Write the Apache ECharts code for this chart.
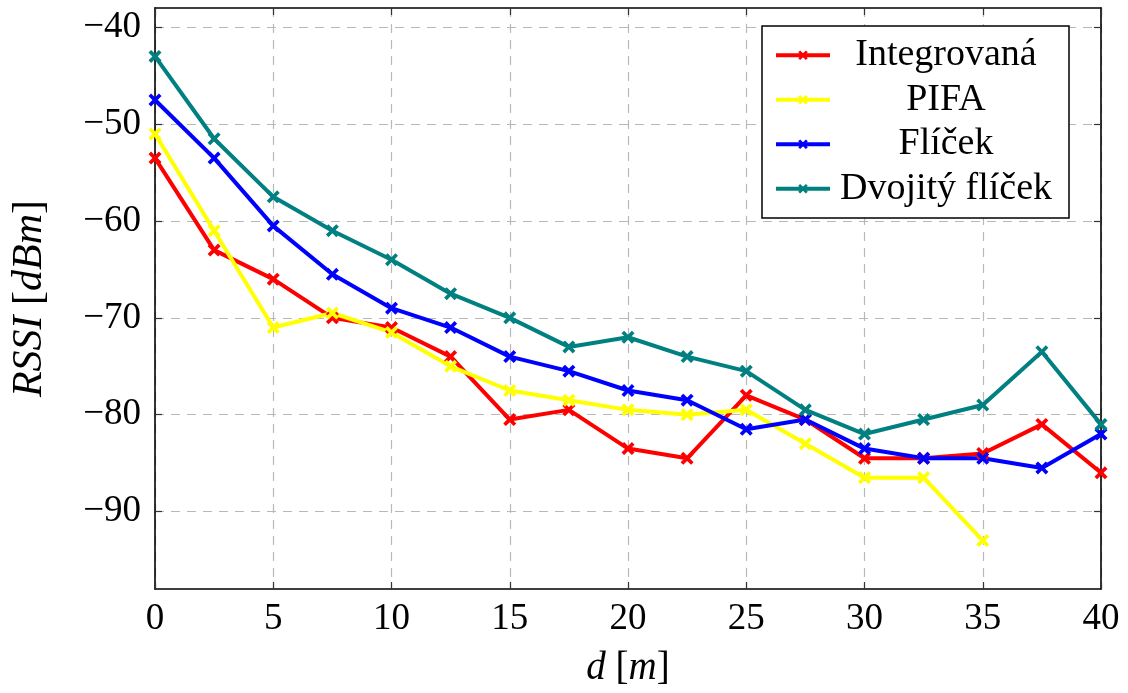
<!DOCTYPE html>
<html>
<head>
<meta charset="utf-8">
<script src="https://cdn.jsdelivr.net/npm/echarts@6/dist/echarts.min.js"></script>
<style>
html,body{margin:0;padding:0;background:#fff;}
#chart{width:1128px;height:693px;}
</style>
</head>
<body>
<div id="chart"></div>
<script>
const distances = [0, 2.5, 5, 7.5, 10, 12.5, 15, 17.5, 20, 22.5, 25, 27.5, 30, 32.5, 35, 37.5, 40];
const integrovana = [-53.5, -63, -66, -70, -71, -74, -80.5, -79.5, -83.5, -84.5, -78, -80.5, -84.5, -84.5, -84, -81, -86];
const pifa = [-51, -61, -71, -69.5, -71.5, -75, -77.5, -78.5, -79.5, -80, -79.5, -83, -86.5, -86.5, -93];
const flicek = [-47.5, -53.5, -60.5, -65.5, -69, -71, -74, -75.5, -77.5, -78.5, -81.5, -80.5, -83.5, -84.5, -84.5, -85.5, -82];
const dvojityFlicek = [-43, -51.5, -57.5, -61, -64, -67.5, -70, -73, -72, -74, -75.5, -79.5, -82, -80.5, -79, -73.5, -81];
const seriesNames = ['Integrovaná', 'PIFA', 'Flíček', 'Dvojitý flíček'];
const xTicks = [0, 5, 10, 15, 20, 25, 30, 35, 40];
const yTicks = [-90, -80, -70, -60, -50, -40];

const FONT = '"Liberation Serif", "DejaVu Serif", serif';
const markX = 'path://M0,2 L2,0 L5,3 L8,0 L10,2 L7,5 L10,8 L8,10 L5,7 L2,10 L0,8 L3,5 Z';
const colors = ['#ff0000', '#ffff00', '#0000ff', '#008080'];
const allData = [integrovana, pifa, flicek, dvojityFlicek];

function pairs(vals) { return vals.map((v, i) => [distances[i], v]); }

const chart = echarts.init(document.getElementById('chart'), null, {renderer: 'canvas'});

const gridLine = {show: true, lineStyle: {color: '#b8b8b8', width: 1.2, type: [9, 7]}};
const tickStyle = {show: true, inside: true, length: 7, lineStyle: {color: '#333', width: 1.2}};
const blackLine = {show: true, onZero: false, lineStyle: {color: '#000', width: 1.6}};

const option = {
  animation: false,
  backgroundColor: '#fff',
  grid: {left: 155, right: 27, top: 8, bottom: 104, show: false},
  xAxis: [{
    type: 'value', min: 0, max: 40, interval: 5, position: 'bottom',
    axisLine: blackLine,
    axisTick: tickStyle,
    splitLine: gridLine,
    axisLabel: {color: '#000', fontFamily: FONT, fontSize: 37, margin: 12},
    name: '{i|d} [{i|m}]', nameLocation: 'middle', nameGap: 60,
    nameTextStyle: {color: '#000', fontFamily: FONT, fontSize: 39, rich: {i: {fontStyle: 'italic', fontFamily: FONT, fontSize: 39, color: '#000'}}}
  }, {
    type: 'value', min: 0, max: 40, interval: 5, position: 'top',
    axisLine: blackLine, axisTick: tickStyle, axisLabel: {show: false}, splitLine: {show: false}
  }],
  yAxis: [{
    type: 'value', min: -98, max: -38, position: 'left',
    axisLine: blackLine,
    axisTick: Object.assign({customValues: yTicks}, tickStyle),
    splitLine: gridLine,
    axisLabel: {customValues: yTicks, color: '#000', fontFamily: FONT, fontSize: 37, margin: 14,
      formatter: v => (v < 0 ? '\u2212' + Math.abs(v) : String(v))},
    name: '{i|RSSI} [{i|dBm}]', nameLocation: 'middle', nameGap: 104,
    nameTextStyle: {color: '#000', fontFamily: FONT, fontSize: 42, rich: {i: {fontStyle: 'italic', fontFamily: FONT, fontSize: 42, color: '#000'}}}
  }, {
    type: 'value', min: -98, max: -38, position: 'right',
    axisLine: blackLine,
    axisTick: Object.assign({customValues: yTicks}, tickStyle),
    axisLabel: {show: false, customValues: yTicks}, splitLine: {show: false}
  }],
  legend: {
    left: 762, top: 26, orient: 'vertical',
    backgroundColor: '#fff', borderColor: '#000', borderWidth: 1.5, borderRadius: 0,
    padding: [7, 12, 7, 12], itemGap: 0, itemWidth: 54, itemHeight: 12, itemTextGap: 10,
    lineStyle: {width: 4},
    data: seriesNames,
    formatter: n => '{c|' + n + '}',
    textStyle: {color: '#000', fontFamily: FONT, fontSize: 38, lineHeight: 44.5, height: 44.5,
      rich: {c: {width: 222, height: 44.5, align: 'center', fontFamily: FONT, fontSize: 38, lineHeight: 44.5, color: '#000'}}}
  },
  series: seriesNames.map((name, k) => ({
    name: name, type: 'line', xAxisIndex: 0, yAxisIndex: 0,
    data: pairs(allData[k]),
    color: colors[k],
    lineStyle: {color: colors[k], width: 4},
    itemStyle: {color: colors[k]},
    symbol: markX, symbolSize: 13, showSymbol: true,
    clip: false
  }))
};
chart.setOption(option);
</script>
</body>
</html>
